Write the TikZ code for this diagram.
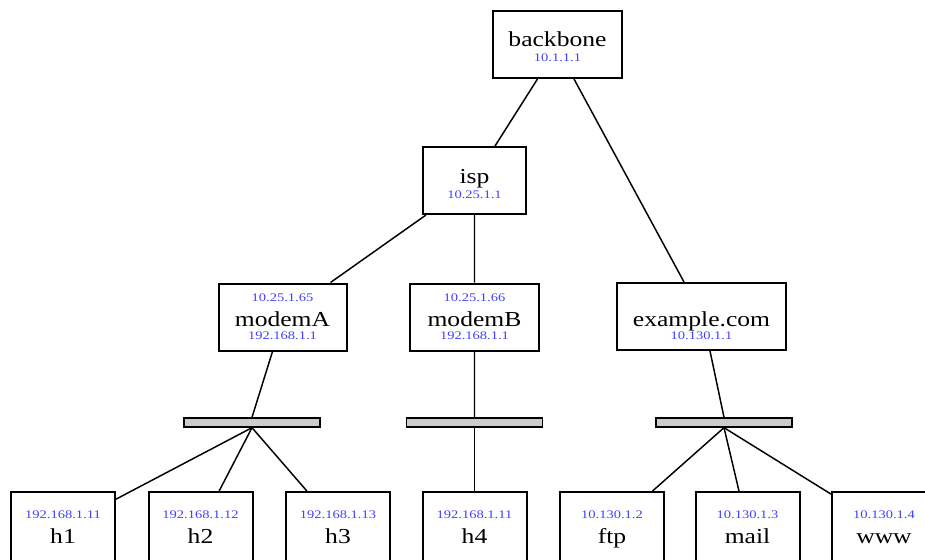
\documentclass[tikz,border=0pt]{standalone}
\usepackage{fontspec}
\setmainfont{Liberation Serif}[FakeStretch=1.2]
\newfontfamily\ipfont{Liberation Serif}[FakeStretch=1.25]
\usetikzlibrary{calc}
\definecolor{ipblue}{RGB}{64,64,255}
\newcommand{\ip}[1]{{\ipfont\fontsize{8.7}{10}\selectfont\color{ipblue}#1}}
\newcommand{\nodp}[1]{\raisebox{0pt}[\height][0pt]{#1}}

\begin{document}
\begin{tikzpicture}[x=0.75pt,y=-0.75pt]
\tikzstyle{every node}=[font=\fontsize{16}{14}\selectfont]
\tikzstyle{box}=[draw,line width=1.5pt,inner sep=0pt,align=center,minimum height=50.25pt]
\tikzstyle{pc}=[box,minimum width=78pt,minimum height=52.5pt]
\tikzstyle{hub}=[draw,line width=1pt,fill=gray!40,inner sep=0pt,minimum width=102pt,minimum height=6.75pt]
\useasboundingbox (0,0) rectangle (925,560);
\clip (0,0) rectangle (925,560);
 % routers
 \node[box,minimum width=96.75pt] (bb) at (557.5,44.5) {\rule{0pt}{14pt}backbone\\[-2.75pt]\ip{10.1.1.1}};
 \node[box,minimum width=77.25pt] (isp) at (474.5,180.5) {\rule{0pt}{15.5pt}isp\\[-2.75pt]\ip{10.25.1.1}};
 \node[box,minimum width=96pt] (ma) at (282.5,317) {\ip{10.25.1.65}\\[4.75pt]modemA\\[-4.25pt]\ip{192.168.1.1}};
 \node[box,minimum width=96.75pt] (mb) at (474.5,317) {\ip{10.25.1.66}\\[4.75pt]modemB\\[-4.25pt]\ip{192.168.1.1}};
 \node[box,minimum width=126.75pt] (ex) at (701.5,316.5) {\ip{\phantom{0}}\\[4.75pt]example.com\\[-4.25pt]\ip{10.130.1.1}};
 % lans
 \node[hub] (lanA) at (252,422.5) {};
 \node[hub] (lanB) at (474.5,422.5) {};
 \node[hub] (lanC) at (724,422.5) {};
 % hosts
 \node[pc] (h1) at (63,527) {\ip{192.168.1.11}\\[4.75pt]h1};
 \node[pc] (h2) at (200.5,527) {\ip{192.168.1.12}\\[4.75pt]h2};
 \node[pc] (h3) at (338,527) {\ip{192.168.1.13}\\[4.75pt]h3};
 \node[pc] (h4) at (474.5,527) {\ip{192.168.1.11}\\[4.75pt]h4};
 \node[pc] (ftp) at (612,527) {\ip{10.130.1.2}\\[4.75pt]\nodp{ftp}};
 \node[pc] (mail) at (747.5,527) {\ip{10.130.1.3}\\[4.75pt]mail};
 \node[pc] (www) at (884,527) {\ip{10.130.1.4}\\[4.75pt]www};
 \path[draw,line width=1.1pt]
 ($(bb.south)+(-20,0)$) -- ($(isp.north)+(20.5,0)$)
 ($(bb.south)+(16.5,0)$) -- ($(ex.north)+(-17.5,0)$)
 ($(isp.south)+(-48.5,0)$) -- ($(ma.north)+(48,0)$)
 (isp) -- (mb)
 ($(ma.south)+(-10,0)$) -- (lanA.north)
 (mb) -- (lanB)
 ($(ex.south)+(8.5,0)$) -- (lanC.north)
 ;
 \path[draw,line width=1.1pt]
 (lanA.south) edge (h1) edge (h2) edge (h3)
 (lanB) edge (h4)
 (lanC.south) edge (ftp) edge (mail) edge (www)
 ;
\end{tikzpicture}
\end{document}
